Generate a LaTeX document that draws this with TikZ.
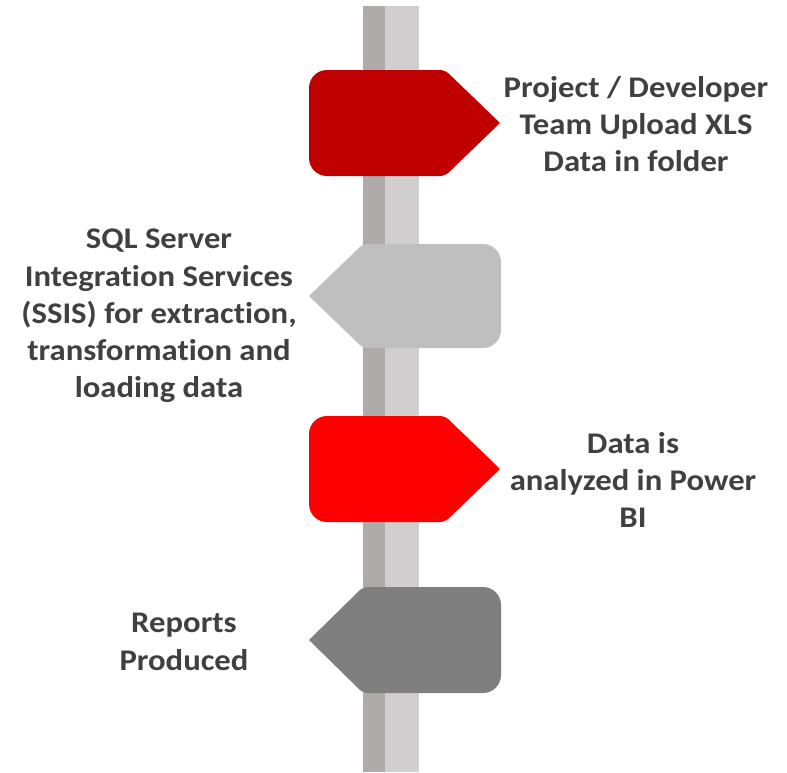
\documentclass[tikz,border=0pt]{standalone}
\usepackage{fontspec}
\setmainfont{Carlito}[Ligatures=NoCommon, FakeStretch=1.09]
\definecolor{bardark}{HTML}{AFABAB}
\definecolor{barlight}{HTML}{D0CECE}
\definecolor{sigA}{HTML}{C00000}
\definecolor{sigB}{HTML}{BFBFBF}
\definecolor{sigC}{HTML}{FF0000}
\definecolor{sigD}{HTML}{7F7F7F}
\definecolor{txt}{HTML}{404040}
\tikzset{
  lbl/.style={text=txt, font=\fontsize{30}{37.3}\selectfont\bfseries, align=center, inner sep=0pt},
}
\begin{document}
\begin{tikzpicture}[x=1pt,y=-1pt]
\useasboundingbox (0,0) rectangle (787,772);
% pole
\fill[bardark] (363,6) rectangle (385,772);
\fill[barlight] (385,6) rectangle (419,772);
% sign 1 (right)
\fill[sigA] (309,123) [rounded corners=18] -- (309,70) [rounded corners=5] -- (445,70) [sharp corners] -- (500,123) [rounded corners=5] -- (445,176) [rounded corners=18] -- (309,176) [sharp corners] -- cycle;
% sign 2 (left)
\fill[sigB] (501,296) [rounded corners=18] -- (501,244) [rounded corners=5] -- (363,244) [sharp corners] -- (309,296) [rounded corners=5] -- (363,348) [rounded corners=18] -- (501,348) [sharp corners] -- cycle;
% sign 3 (right)
\fill[sigC] (309,469) [rounded corners=18] -- (309,416) [rounded corners=5] -- (445,416) [sharp corners] -- (500,469) [rounded corners=5] -- (445,522) [rounded corners=18] -- (309,522) [sharp corners] -- cycle;
% sign 4 (left)
\fill[sigD] (501,640) [rounded corners=18] -- (501,587) [rounded corners=5] -- (363,587) [sharp corners] -- (309,640) [rounded corners=5] -- (363,693) [rounded corners=18] -- (501,693) [sharp corners] -- cycle;
% labels
\node[lbl] (t1) at (636,124) {Project / Developer\\Team Upload XLS\\Data in folder};
\node[lbl] (t2) at (159,316) {SQL Server\\Integration Services\\(SSIS) for extraction,\\transformation and\\loading data};
\node[lbl] (t3) at (633,480) {Data is\\analyzed in Power\\BI};
\node[lbl] (t4) at (184,642) {Reports\\Produced};
\end{tikzpicture}
\end{document}
